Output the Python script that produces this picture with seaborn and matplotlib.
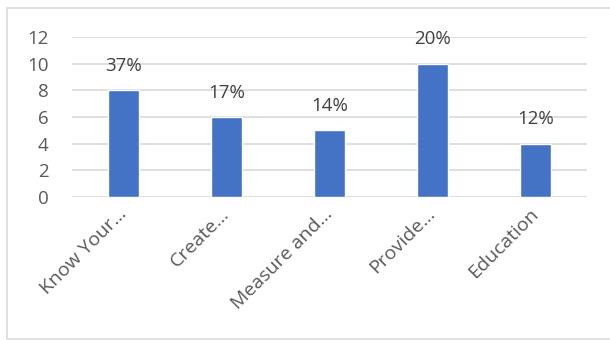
import matplotlib
matplotlib.use("Agg")
import matplotlib.pyplot as plt
import seaborn as sns
import pandas as pd

categories = ["Know Your…", "Create…", "Measure and…", "Provide…", "Education"]
values = [8, 6, 5, 10, 4]
pct_labels = ["37%", "17%", "14%", "20%", "12%"]

sns.set_style("white")
plt.rcParams['font.family'] = ['Open Sans', 'DejaVu Sans']

df = pd.DataFrame({"cat": categories, "val": values})

fig = plt.figure(figsize=(6.1, 3.4), dpi=100)
ax = fig.add_axes([72/610, 1-197/340, 515/610, 160/340])

sns.barplot(data=df, x="cat", y="val", color="#4472C4", width=0.31,
            saturation=1, ax=ax, zorder=3)

ax.set_ylim(0, 12)
ax.set_yticks(range(0, 13, 2))
ax.set_xlim(-0.5, len(categories) - 0.5)
ax.grid(axis="y", color="#d9d9d9", linewidth=1.2, zorder=0)
for s in ax.spines.values():
    s.set_visible(False)
ax.set_xlabel("")
ax.set_ylabel("")
ax.tick_params(axis="both", length=0, labelsize=13.5, labelcolor="#595959")
ax.tick_params(axis="y", pad=17)
ax.tick_params(axis="x", pad=10)
ax.set_xticks(range(len(categories)))
ax.set_xticklabels(categories, rotation=45, ha="right", va="center",
                   rotation_mode="anchor", fontsize=14)
for t in ax.get_xticklabels():
    t.set_x(t.get_position()[0])

for i, (v, lab) in enumerate(zip(values, pct_labels)):
    ax.annotate(lab, (i, v), xytext=(0, 11), textcoords="offset points",
                ha="center", va="bottom", fontsize=13.5, color="#404040")

# outer chart frame (right side falls outside the image, like the reference)
fig.patches.append(plt.Rectangle((7/610, 1/340), 610/610, 331/340,
                                 transform=fig.transFigure, fill=False,
                                 edgecolor="#d9d9d9", linewidth=1.2))

fig.savefig("out.png", dpi=100)
